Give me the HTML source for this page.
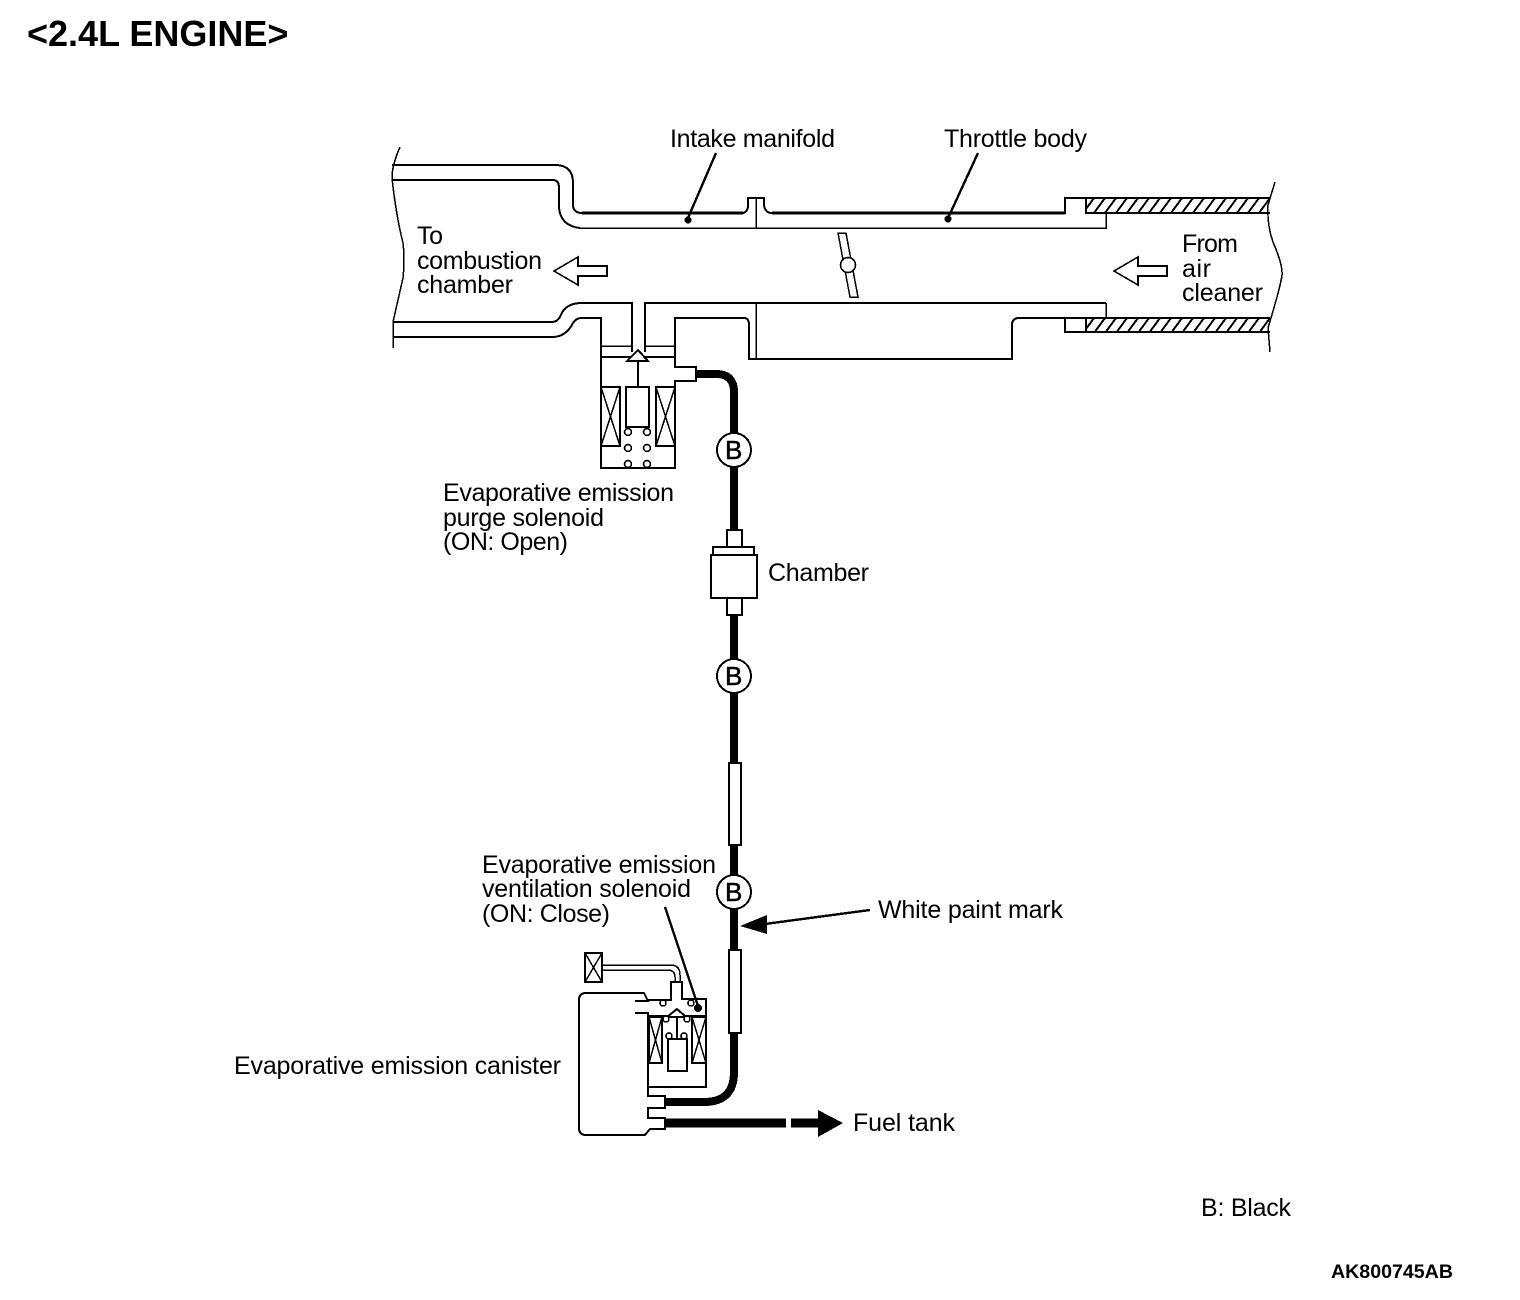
<!DOCTYPE html>
<html><head><meta charset="utf-8"><style>
html,body{margin:0;padding:0;background:#fff}
svg{display:block;shape-rendering:crispEdges}
text{font-family:"Liberation Sans",sans-serif;font-size:25px;fill:#000}
.b{fill:none;stroke:#000;stroke-width:2}
.t{fill:none;stroke:#000;stroke-width:1.5}
.h{fill:none;stroke:#000;stroke-width:8}
.w{fill:#fff;stroke:#000;stroke-width:2}
.c{fill:#fff;stroke:#000;stroke-width:1.6}
.k{font-size:26px;stroke:#000;stroke-width:.5}
</style></head><body>
<svg width="1520" height="1300" viewBox="0 0 1520 1300" xmlns="http://www.w3.org/2000/svg">
<defs><pattern id="hat" width="11" height="15" patternUnits="userSpaceOnUse" patternTransform="translate(1086 198)"><path d="M-3 15 L8 0 M8 15 L19 0 M-14 15 L-3 0" stroke="#000" stroke-width="2" fill="none"/></pattern></defs>

<text x="27" y="46" style="font-size:36px;font-weight:bold">&lt;2.4L ENGINE&gt;</text>

<!-- break lines -->
<path class="t" d="M400 147 Q392 165 392 178 Q396 215 403 243 Q405 260 403 278 L393 322 L393 348"/>
<path class="t" d="M1275 182 L1268 205 Q1267 225 1273 242 Q1283 265 1282 275 Q1281 285 1268 328 L1270 352"/>

<!-- top wall -->
<path class="b" d="M392 165 H555 Q573 165 573 183 V206 Q574 213 582 213 H743 Q748 212 748 205 V198 H764 V205 Q765 213 772 213 H1065 V198 H1270"/>
<path d="M582 213 H743 M772 213 H1065" fill="none" stroke="#000" stroke-width="3"/>
<path class="b" d="M392 180 H553 Q559 180 559 188 V208 Q561 226 580 228"/>
<path class="t" d="M580 228 H1106 V213 M756 198 V228"/>
<rect x="1086" y="198" width="184" height="15" fill="url(#hat)"/>
<path class="b" d="M1086 198 V213 H1270"/>

<!-- bottom wall -->
<path class="b" d="M393 322 H552 Q558 322 561 315 Q565 304 580 303 H632 V352"/>
<path class="b" d="M645 352 V303 H1106"/>
<path class="t" d="M1106 303 V318 M756 303 V359"/>
<path class="b" d="M393 337 H552 Q565 337 572 325 Q575 318 582 318 H601 V468 H675 V318 H744 Q749 318 749 325 V359 H1012 V325 Q1012 318 1019 318 H1065 V332 H1270"/>
<rect x="1086" y="318" width="184" height="14" fill="url(#hat)"/>
<path class="b" d="M1065 318 H1270 M1086 318 V332"/>

<!-- leaders -->
<path d="M716 153 L688 218" stroke="#000" stroke-width="2.4"/><circle cx="688" cy="220" r="3.5"/>
<path d="M978 153 L949 216" stroke="#000" stroke-width="2.4"/><circle cx="948" cy="219" r="3.5"/>

<!-- throttle -->
<polygon class="t" points="838,233 846,233 858,297 850,297" style="fill:#fff"/>
<circle cx="848" cy="265" r="7.5" class="c"/>

<!-- flow arrows -->
<polygon class="c" points="554,271 578,257 578,266 607,266 607,276 578,276 578,285"/>
<polygon class="c" points="1114,271 1138,257 1138,266 1167,266 1167,276 1138,276 1138,285"/>

<!-- purge solenoid -->
<path class="t" d="M601 346 H632 M645 346 H675"/>
<path class="b" d="M601 357 H675"/>
<path class="w" d="M675 367 H696 V381 H675"/>
<rect x="674" y="368" width="3" height="12" fill="#fff"/>
<polygon class="w" points="638,350 648,361 627,361"/>
<path class="b" d="M638 361 V387"/>
<rect class="w" x="626" y="387" width="23" height="40"/>
<rect class="w" x="601" y="387" width="19" height="59"/>
<path class="t" d="M601 387 L620 446 M620 387 L601 446"/>
<rect class="w" x="656" y="387" width="19" height="59"/>
<path class="t" d="M656 387 L675 446 M675 387 L656 446"/>
<g class="c"><circle cx="628" cy="432" r="3.5"/><circle cx="647" cy="432" r="3.5"/><circle cx="628" cy="448" r="3.5"/><circle cx="647" cy="448" r="3.5"/><circle cx="628" cy="464" r="3.5"/><circle cx="647" cy="464" r="3.5"/></g>

<!-- hoses -->
<path class="h" d="M696 374 H716 Q734 374 734 392 V530"/>
<path class="h" d="M734 615 V763"/>
<path class="h" d="M734 845 V950"/>
<path class="h" d="M734 1032 V1072 Q734 1102 704 1102 H665"/>
<path d="M665 1123 H786" stroke="#000" stroke-width="9"/>
<path d="M791 1123 H820" stroke="#000" stroke-width="9"/>
<polygon points="843,1123 818,1110 818,1137"/>

<!-- chamber -->
<rect class="w" x="727" y="530" width="15" height="17"/>
<rect class="w" x="713" y="547" width="41" height="8"/>
<rect class="b" x="711" y="555" width="46" height="43" style="fill:#fff"/>
<rect class="w" x="727" y="598" width="15" height="17"/>

<!-- sleeves -->
<rect class="w" x="729" y="763" width="12" height="82"/>
<rect class="w" x="729" y="950" width="12" height="83"/>

<!-- B circles -->
<g class="c" style="stroke-width:2"><circle cx="734" cy="450" r="17"/><circle cx="734" cy="676" r="17"/><circle cx="734" cy="892" r="17"/></g>
<text class="k" x="725" y="459">B</text>
<text class="k" x="725" y="685">B</text>
<text class="k" x="725" y="901">B</text>

<!-- white paint mark -->
<path d="M870 910 L765 924" stroke="#000" stroke-width="2.4"/>
<polygon points="740,926 767,915 767,934"/>

<!-- canister -->
<path class="b" d="M635 1001 H648 L644 993 H586 Q579 993 579 1000 V1128 Q579 1135 586 1135 H645 L650 1129 H665 V1118 H648 V1108 H665 V1096 H648 V1013 H635"/>
<!-- vent solenoid -->
<path class="b" d="M648 1000 H671 V982 H682 V999 H706 V1087 H648"/>
<path class="b" d="M648 1016 H706"/>
<rect class="w" x="649" y="1017" width="13" height="46"/>
<path class="t" d="M649 1017 L662 1063 M662 1017 L649 1063"/>
<rect class="w" x="692" y="1017" width="14" height="46"/>
<path class="t" d="M692 1017 L706 1063 M706 1017 L692 1063"/>
<polygon class="w" points="677,1009 686,1017 667,1017"/>
<path class="b" d="M677 1017 V1039"/>
<rect class="w" x="668" y="1039" width="19" height="32"/>
<g class="c"><circle cx="663" cy="1003" r="3"/><circle cx="691" cy="1003" r="3"/><circle cx="666" cy="1019" r="3"/><circle cx="687" cy="1019" r="3"/><circle cx="669" cy="1036" r="3"/><circle cx="684" cy="1036" r="3"/></g>
<path d="M665 907 L698 1006" stroke="#000" stroke-width="2.4"/><circle cx="698" cy="1008" r="4"/>
<rect class="w" x="585" y="953" width="17" height="29"/>
<path class="t" d="M585 953 L602 982 M602 953 L585 982"/>
<path class="t" d="M602 965 H672 Q680 966 680 975 V982 M602 970 H669 Q675 971 675 977 V982"/>

<!-- labels -->
<text x="670" y="147" textLength="165">Intake manifold</text>
<text x="944" y="147" textLength="143">Throttle body</text>
<text x="417" y="244" textLength="26">To</text>
<text x="417" y="269" textLength="125">combustion</text>
<text x="417" y="293" textLength="96">chamber</text>
<text x="1182" y="252" textLength="56">From</text>
<text x="1182" y="277" textLength="29">air</text>
<text x="1182" y="301" textLength="81">cleaner</text>
<text x="443" y="501" textLength="231">Evaporative emission</text>
<text x="443" y="526" textLength="161">purge solenoid</text>
<text x="443" y="550" textLength="125">(ON: Open)</text>
<text x="768" y="581" textLength="101">Chamber</text>
<text x="482" y="873" textLength="234">Evaporative emission</text>
<text x="482" y="897" textLength="209">ventilation solenoid</text>
<text x="482" y="922" textLength="128">(ON: Close)</text>
<text x="878" y="918" textLength="185">White paint mark</text>
<text x="234" y="1074" textLength="327">Evaporative emission canister</text>
<text x="853" y="1131" textLength="102">Fuel tank</text>
<text x="1201" y="1216" textLength="90">B: Black</text>
<text x="1331" y="1278" textLength="122" lengthAdjust="spacingAndGlyphs" style="font-size:19px;font-weight:bold">AK800745AB</text>
</svg>
</body></html>
